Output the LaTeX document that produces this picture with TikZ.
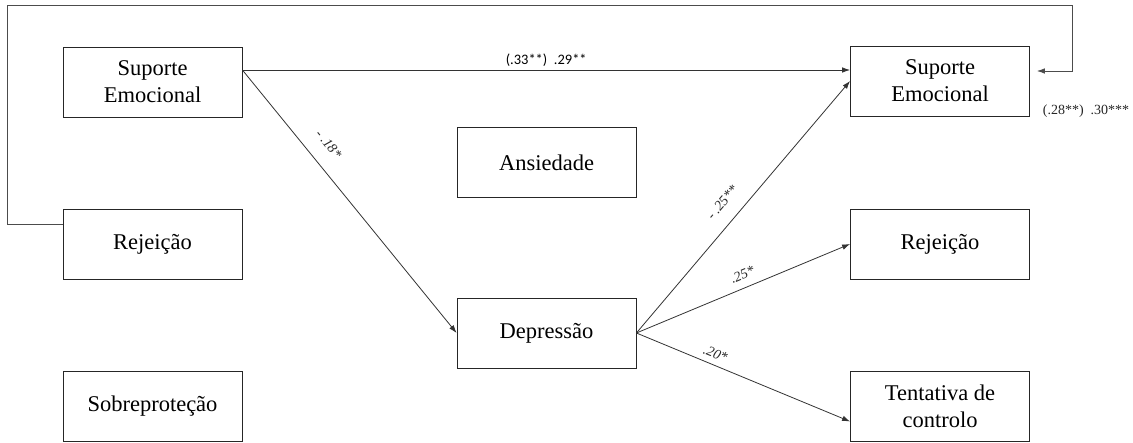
\documentclass[tikz,border=0pt]{standalone}
\usepackage{fontspec}
\setmainfont{Liberation Serif}
\newfontfamily\lblfont{Carlito}
\usetikzlibrary{arrows.meta}

\tikzset{
  caixa/.style={draw=black!85, line width=0.8pt, minimum width=179pt, minimum height=70pt,
    align=center, inner sep=0pt, font=\fontsize{22.5}{27}\selectfont},
  seta/.style={draw=black!80, line width=0.8pt, -{Latex[length=8pt,width=5.5pt]}},
  coef/.style={font=\fontsize{14}{16}\selectfont\itshape, text=black!85, sloped, inner sep=1pt}
}

\begin{document}
\begin{tikzpicture}[x=1pt,y=-1pt]
    \useasboundingbox (0,0) rectangle (1133,443);

    % pais
    \node[caixa] (supA) at (152.5,82) {Suporte\\Emocional};
    \node[caixa] (rejA) at (152.5,244) {Rejeição};
    \node[caixa] (sobA) at (152.5,406.5) {Sobreproteção};

    % mediadores
    \node[caixa] (ans) at (546.5,162.5) {Ansiedade};
    \node[caixa] (dep) at (546.5,333) {Depressão};

    % maes
    \node[caixa] (supB) at (940,81) {Suporte\\Emocional};
    \node[caixa] (rejB) at (940,244) {Rejeição};
    \node[caixa] (tent) at (940,406.5) {Tentativa de\\controlo};

    \coordinate (voltaE) at (7,5);
    \coordinate (voltaD) at (1072,5);

    \draw[seta] ([yshift=12pt]supA.east) -- ([yshift=12pt]supA.east -| supB.west)
        node[pos=0.5, above, inner sep=3pt, font=\lblfont\fontsize{14.5}{16}\selectfont] {(.33**)\ \ .29**};
    \draw[seta] ([yshift=12pt]supA.east) -- (dep.west) node[coef, pos=0.33, above=14pt] {- .18*};

    \draw[seta] (dep.east) -- (supB.west) node[coef, pos=0.47, above=13pt] {- .25**};
    \draw[seta] (dep.east) -- (rejB.west) node[coef, pos=0.52, above=7pt] {.25*};
    \draw[seta] (dep.east) -- ([yshift=-15pt]tent.west) node[coef, pos=0.35, above=5pt] {.20*};

    \draw[seta, draw=black!70] ([yshift=20pt]rejA.west) -| (voltaE) -- (voltaD) |- ([xshift=7pt,yshift=10pt]supB.east);
    \node[font=\fontsize{14}{16}\selectfont, text=black!85] (est) at (1086,111) {(.28**)\ \ .30***};
\end{tikzpicture}
\end{document}
